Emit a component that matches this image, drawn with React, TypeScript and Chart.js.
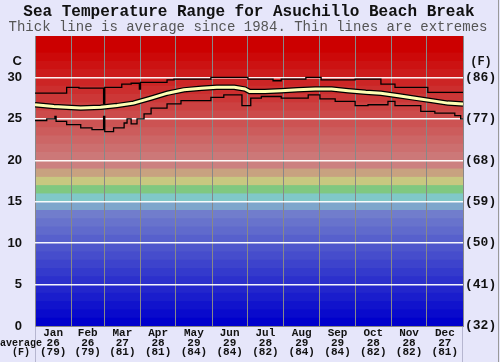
import React, { useEffect, useRef } from 'react';
import { Chart, registerables } from 'chart.js';
Chart.register(...registerables);

const TITLE = 'Sea Temperature Range for Asuchillo Beach Break';
const SUBTITLE = 'Thick line is average since 1984. Thin lines are extremes';

const months = ['Jan', 'Feb', 'Mar', 'Apr', 'May', 'Jun', 'Jul', 'Aug', 'Sep', 'Oct', 'Nov', 'Dec'];
const avgC = [26, 26, 27, 28, 29, 29, 28, 29, 29, 28, 28, 27];
const avgF = [79, 79, 81, 81, 84, 84, 82, 84, 84, 82, 82, 81];
const monthStarts = [0, 31, 59, 90, 120, 151, 181, 212, 243, 273, 304, 334, 365];

const yTicksC = [0, 5, 10, 15, 20, 25, 30];

const maxDays = [0, 27, 37.5, 58.5, 59.5, 74, 82, 89, 90, 112.6, 118.5, 150, 181.6, 203, 210, 231, 244, 273, 295, 307, 335, 365];
const maxTemps = [28.1, 28.8, 28.7, 26.8, 28.8, 29.2, 29.3, 28.6, 29.4, 29.7, 29.8, 30.0, 29.8, 29.6, 29.8, 30.0, 29.7, 29.8, 29.2, 28.8, 28.2, 28.2];

const minDays = [0, 10, 17, 18, 27, 39, 48.6, 58.5, 59.5, 67, 76, 78.5, 82, 87, 93, 99, 112.6, 124.5, 150, 161, 176.5, 184, 193, 210, 233, 243, 256, 273, 284, 301, 307, 329, 341, 358, 363, 365];
const minTemps = [24.8, 25.0, 25.3, 24.7, 24.3, 23.9, 23.7, 25.3, 23.45, 23.9, 24.5, 25.0, 24.4, 25.0, 25.6, 26.3, 26.8, 27.2, 27.6, 27.9, 26.6, 27.5, 27.7, 27.5, 27.9, 27.4, 27.1, 26.6, 26.7, 27.1, 26.6, 25.9, 25.7, 25.4, 25.0, 25.0];

const avgDays = [0, 16, 27, 39, 56, 70, 84, 99, 113, 127, 142, 155, 170, 179, 183, 196, 210, 224, 239, 253, 267, 282, 295, 310, 324, 338, 352, 365];
const avgTemps = [26.7, 26.5, 26.4, 26.3, 26.4, 26.6, 26.9, 27.5, 28.1, 28.5, 28.7, 28.8, 28.8, 28.6, 28.3, 28.3, 28.4, 28.5, 28.6, 28.6, 28.4, 28.2, 28.1, 27.8, 27.5, 27.2, 26.9, 26.8];

const monthMids = months.map((_, i) => (monthStarts[i] + monthStarts[i + 1]) / 2);
const xTickValues = [...monthStarts, ...monthMids].sort((a, b) => a - b);

const pts = (xs: number[], ys: number[]) => xs.map((x, i) => ({ x, y: ys[i] }));

function bandColor(i: number): string {
  if (i <= 13) return `rgb(${Math.round(8.7 * i)},${Math.round(9.6 * i)},204)`;
  if (i === 14) return 'rgb(126,166,204)';
  if (i === 15) return 'rgb(128,200,200)';
  if (i === 16) return 'rgb(128,200,128)';
  if (i === 17) return 'rgb(200,200,128)';
  if (i === 18) return 'rgb(200,162,128)';
  if (i === 19) return 'rgb(204,128,128)';
  const t = Math.min(1, (i - 20) / 13);
  const g = Math.round(120 * (1 - t));
  return `rgb(204,${g},${g})`;
}

const bgPlugin = {
  id: 'bg',
  beforeDraw(chart: any) {
    const { ctx, chartArea, scales } = chart;
    const { left, right, bottom } = chartArea;
    const y = scales.y;
    ctx.save();
    ctx.fillStyle = '#e6e6fa';
    ctx.fillRect(0, 0, chart.width, chart.height);
    for (let i = 34; i >= 0; i--) {
      const yt = y.getPixelForValue(i + 1);
      ctx.fillStyle = bandColor(i);
      ctx.fillRect(left, yt, right - left, bottom - yt);
    }
    ctx.restore();
  },
  afterDraw(chart: any) {
    const { ctx, chartArea } = chart;
    ctx.save();
    ctx.fillStyle = '#111';
    ctx.textAlign = 'center';
    ctx.textBaseline = 'middle';
    ctx.font = 'bold 16px "Liberation Mono"';
    ctx.fillText(TITLE, 249, 12);
    ctx.fillStyle = '#555';
    ctx.font = '14px "Liberation Mono"';
    ctx.fillText(SUBTITLE, 248, 27);
    ctx.fillStyle = '#111';
    ctx.textAlign = 'right';
    ctx.font = 'bold 13px "Liberation Sans"';
    ctx.fillText('C', 22, 61);
    ctx.textAlign = 'center';
    ctx.font = 'bold 12px "Liberation Mono"';
    ctx.fillText('(F)', 481, 62);
    ctx.font = 'bold 10px "Liberation Mono"';
    ctx.fillText('average', 21, 343);
    ctx.fillText('(F)', 21, 352.5);
    ctx.strokeStyle = 'rgba(150,150,180,0.6)';
    ctx.lineWidth = 1;
    ctx.beginPath();
    ctx.moveTo(chartArea.left + 0.5, chartArea.bottom);
    ctx.lineTo(chartArea.left + 0.5, chart.height);
    ctx.moveTo(chartArea.right - 0.5, chartArea.bottom);
    ctx.lineTo(chartArea.right - 0.5, chart.height);
    ctx.stroke();
    ctx.strokeStyle = '#999';
    ctx.beginPath();
    ctx.moveTo(chart.width - 1.5, 0);
    ctx.lineTo(chart.width - 1.5, chart.height);
    ctx.stroke();
    ctx.restore();
  },
};

export default function App() {
  const ref = useRef<HTMLCanvasElement>(null);
  useEffect(() => {
    const canvas = ref.current!;
    const chart = new Chart(canvas, {
      type: 'line',
      data: {
        datasets: [
          { data: pts(avgDays, avgTemps), borderColor: '#ffffb4', borderWidth: 3, pointRadius: 0, order: 0 },
          { data: pts(avgDays, avgTemps), borderColor: '#000', borderWidth: 5.5, pointRadius: 0, order: 1 },
          { data: pts(maxDays, maxTemps), borderColor: '#000', borderWidth: 1.3, pointRadius: 0, stepped: 'before', order: 2 },
          { data: pts(minDays, minTemps), borderColor: '#000', borderWidth: 1.3, pointRadius: 0, stepped: 'before', order: 2 },
        ],
      } as any,
      options: {
        responsive: false,
        animation: false,
        devicePixelRatio: 1,
        layout: { padding: { top: 36, left: 0, right: 0, bottom: 0 } },
        plugins: { legend: { display: false }, tooltip: { enabled: false }, title: { display: false } },
        scales: {
          x: {
            type: 'linear',
            min: 0,
            max: 365,
            afterBuildTicks: (s: any) => { s.ticks = xTickValues.map((v) => ({ value: v })); },
            afterFit: (s: any) => { s.height = 36; },
            grid: {
              drawTicks: false,
              color: (c: any) => (c.tick && monthStarts.includes(c.tick.value) ? '#888' : 'rgba(0,0,0,0)'),
              lineWidth: 1,
            },
            border: { display: true, color: '#888' },
            ticks: {
              autoSkip: false,
              maxRotation: 0,
              minRotation: 0,
              padding: 3,
              color: '#111',
              font: { family: 'Liberation Mono', size: 11, weight: 'bold', lineHeight: 0.86 },
              callback: (v: any) => {
                const i = monthMids.indexOf(Number(v));
                return i >= 0 ? [months[i], String(avgC[i]), `(${avgF[i]})`] : '';
              },
            },
          },
          y: {
            position: 'left',
            min: 0,
            max: 35,
            afterBuildTicks: (s: any) => { s.ticks = yTicksC.map((v) => ({ value: v })); },
            afterFit: (s: any) => { s.width = 35; },
            grid: {
              drawTicks: false,
              color: (c: any) => (c.tick && c.tick.value > 0 && c.tick.value < 35 ? 'rgba(255,255,255,0.95)' : 'rgba(0,0,0,0)'),
              lineWidth: 1.5,
            },
            border: { display: false },
            ticks: {
              padding: 13,
              color: '#111',
              font: { family: 'Liberation Sans', size: 13, weight: 'bold' },
              callback: (v: any) => String(v),
            },
          },
          y2: {
            position: 'right',
            min: 0,
            max: 35,
            afterBuildTicks: (s: any) => { s.ticks = yTicksC.map((v) => ({ value: v })); },
            afterFit: (s: any) => { s.width = 37; },
            grid: { display: false, drawTicks: false },
            border: { display: false },
            ticks: {
              padding: 2,
              color: '#111',
              font: { family: 'Liberation Mono', size: 13, weight: 'bold' },
              callback: (v: any) => `(${Math.round((Number(v) * 9) / 5 + 32)})`,
            },
          },
        },
      } as any,
      plugins: [bgPlugin],
    });
    return () => chart.destroy();
  }, []);
  return (
    <div style={{ position: 'absolute', left: 0, top: 0, width: 500, height: 362 }}>
      <canvas ref={ref} width={500} height={362} style={{ display: 'block', width: 500, height: 362 }} />
    </div>
  );
}
